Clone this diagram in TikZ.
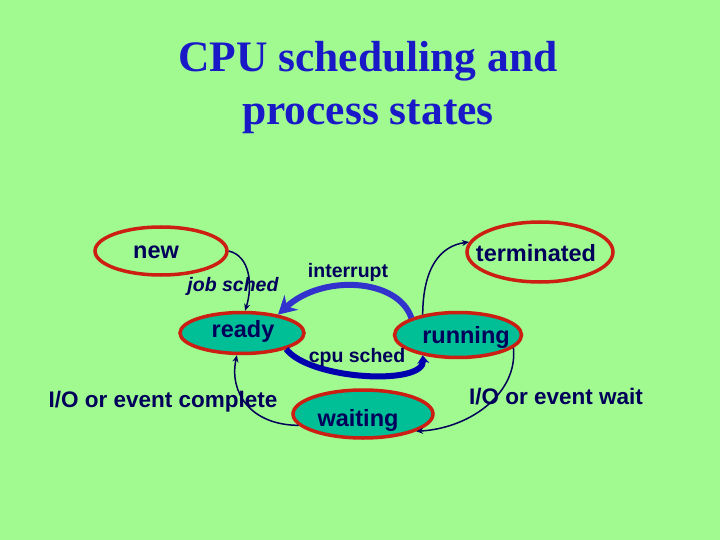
\documentclass[tikz,border=0pt]{standalone}
\usepackage{fontspec}
\setmainfont{Liberation Serif}
\setsansfont{Liberation Sans}
\usetikzlibrary{shapes.geometric, arrows.meta}
\definecolor{slidegreen}{RGB}{160,250,144}
\definecolor{ringred}{RGB}{205,30,20}
\definecolor{statefill}{RGB}{0,190,150}
\definecolor{labelnavy}{RGB}{0,0,90}
\definecolor{titleblue}{RGB}{25,25,200}
\definecolor{thickblue}{RGB}{50,50,205}
\definecolor{deepblue}{RGB}{0,0,175}
\tikzset{>=Stealth}
\tikzset{
  state/.style={ellipse, draw=ringred, line width=3.5pt, inner sep=0pt},
  busy/.style={state, fill=statefill},
  stxt/.style={text=labelnavy, font=\sffamily\bfseries\fontsize{23.5}{28}\selectfont},
  etxt/.style={text=labelnavy, font=\sffamily\bfseries\fontsize{19.5}{24}\selectfont},
  wtxt/.style={text=labelnavy, font=\sffamily\bfseries\fontsize{22.5}{27}\selectfont},
  thin arc/.style={draw=labelnavy, line width=1.5pt, -{Stealth[length=7pt,width=6pt]}}
}

\begin{document}
\begin{tikzpicture}[x=1pt, y=-1pt]
\fill[slidegreen] (0,0) rectangle (720,540);
\useasboundingbox (0,0) rectangle (720,540);
% title
\node[text=titleblue, font=\bfseries\fontsize{43.5}{53}\selectfont, align=center] (title) at (368,88) {CPU scheduling and\\process states};
% states
\node[state, minimum width=132pt, minimum height=48pt] (new) at (161,251) {};
\node[busy, minimum width=124pt, minimum height=41pt] (ready) at (242,333) {};
\node[state, minimum width=146pt, minimum height=60pt] (term) at (540,252) {};
\node[busy, minimum width=127pt, minimum height=45pt] (run) at (458,335) {};
\node[busy, minimum width=140pt, minimum height=48pt] (wait) at (363,414) {};
\node[stxt] at (156,252) {new};
\node[stxt] at (243,331) {ready};
\node[stxt] at (536,253) {terminated};
\node[stxt] at (466,337) {running};
\node[stxt] at (358,420) {waiting};
% transitions
\draw[thin arc] (new.east) .. controls (250,256) and (253,285) .. (ready.82);
\draw[thickblue, line width=6pt, -{Stealth[length=18pt,width=20pt]}] (run.160) .. controls (398,278) and (322,274) .. (ready.27);
\draw[deepblue, line width=6pt, -{Stealth[length=8pt,width=12pt]}] (ready.-20) .. controls (310,380) and (425,386) .. (run.-150);
\draw[thin arc] (run.150) .. controls (423,268) and (440,246) .. (term.172);
\draw[thin arc] (run.-13) .. controls (518,392) and (472,428) .. (wait.-18);
\draw[thin arc] (wait.190) .. controls (250,425) and (229,392) .. (ready.-103);
% labels
\node[etxt, font=\sffamily\bfseries\itshape\fontsize{19.5}{24}\selectfont] (jl) at (233,286) {job sched};
\node[etxt] (il) at (348,272) {interrupt};
\node[etxt] (cl) at (357,357) {cpu sched};
\node[wtxt] (cpl) at (163,402) {I/O or event complete};
\node[wtxt] (wl) at (556,397) {I/O or event wait};
\end{tikzpicture}
\end{document}
